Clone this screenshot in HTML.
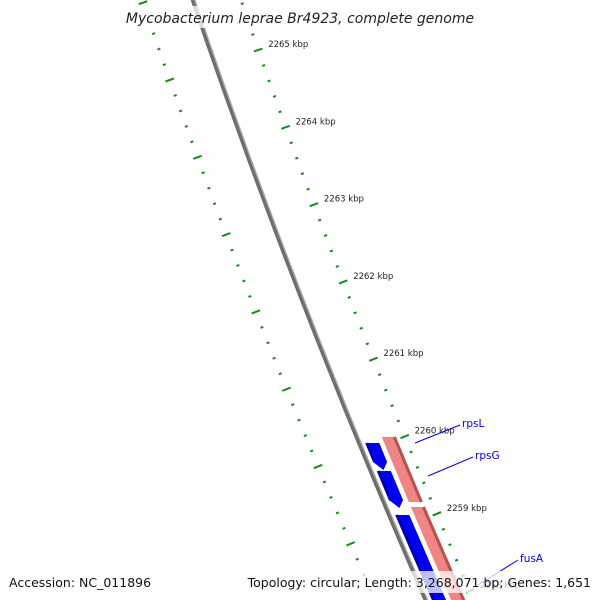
<!DOCTYPE html>
<html><head><meta charset="utf-8"><style>
html,body{margin:0;padding:0;background:#fff;overflow:hidden;}
svg{display:block;font-family:"DejaVu Sans","Liberation Sans",sans-serif;}
</style></head><body>
<svg id="map" width="600" height="600" viewBox="0 0 600 600">
<g id="ticks"></g>
<g id="backbone"></g>
<g id="genes"></g>
<g id="labels"></g>
<rect x="125" y="6" width="350" height="22" fill="#fff" fill-opacity="0.75"/>
<text x="300" y="23" text-anchor="middle" font-style="italic" font-size="14" fill="#222">Mycobacterium leprae Br4923, complete genome</text>
<rect x="256" y="571" width="344" height="22" fill="#fff" fill-opacity="0.75"/>
<text x="9" y="587" font-size="12.5" fill="#111">Accession: NC_011896</text>
<text x="591" y="587" text-anchor="end" font-size="12.5" fill="#111">Topology: circular; Length: 3,268,071 bp; Genes: 1,651</text>
</svg>
<script>
const kbpLabels = [2266, 2265, 2264, 2263, 2262, 2261, 2260, 2259, 2258];
const geneNames = ["rpsL", "rpsG", "fusA", "fwd1", "fwd2"];
const geneStarts = [2259916, 2259554, 2258985, 2259994, 2259088];
const geneEnds   = [2259567, 2259075, 2257000, 2259153, 2257000];
const geneStrand = [-1, -1, -1, 1, 1];
const labelled = ["rpsL", "rpsG", "fusA"];

const NS = "http://www.w3.org/2000/svg";
function yScale(bp){ return 50 + (2265000 - bp) * 0.0773; }
function bbX(y){ return 193 + 0.34*y + 0.00008*y*y; }
function slope(y){ return 0.34 + 0.00016*y; }
function pt(y, off){ return [bbX(y) + off, y]; }
function normal(y){ const s = slope(y), L = Math.sqrt(1+s*s); return [1/L, -s/L]; }
function mk(tag, attrs, parent){
  const e = document.createElementNS(NS, tag);
  for (const k in attrs) e.setAttribute(k, attrs[k]);
  parent.appendChild(e); return e;
}
// backbone
const bb = document.getElementById('backbone');
let d1 = "", d2 = "";
for (let y = -10; y <= 610; y += 10){
  const a = pt(y, 0), b = pt(y, 1.8);
  d1 += (y === -10 ? "M" : "L") + a[0].toFixed(1) + "," + a[1].toFixed(1);
  d2 += (y === -10 ? "M" : "L") + b[0].toFixed(1) + "," + b[1].toFixed(1);
}
const bbl = mk('path', {d: d1, stroke: "#6e6e6e", "stroke-width": 4.5, fill: "none"}, bb);


const bbh = mk('path', {d: d2, stroke: "#aaaaaa", "stroke-width": 1.2, fill: "none"}, bb);



// ticks
const tg = document.getElementById('ticks');
function tick(y, off, len, w){
  const c = pt(y, off), n = normal(y);
  const l = mk('line', {x1:c[0]-n[0]*len/2, y1:c[1]-n[1]*len/2, x2:c[0]+n[0]*len/2, y2:c[1]+n[1]*len/2, stroke:"#1a8a1a", "stroke-width": w}, tg);
  
  
}
kbpLabels.forEach(k => {
  for (let m = 0; m < 5; m++){
    const bp = k*1000 - m*200;
    const y = yScale(bp);
    if (y > 605) continue;
    if (y > -5) tick(y, 48, m === 0 ? 9 : 3, 2);
    const yi = y + 30;
    if (yi > -5 && yi < 605) tick(yi, -51, m === 0 ? 9 : 3, 2);
    if (m === 0 && y > 30){
      const p = pt(y, 58);
      const t = mk('text', {x: p[0], y: p[1] - 3, "font-size": 8.5, fill: "#222"}, tg);
      t.textContent = k + " kbp";
      
      
    }
  }
});

// genes
const gg = document.getElementById('genes');
geneNames.forEach((name, i) => {
  const y1 = yScale(geneStarts[i]), y2 = Math.min(yScale(geneEnds[i]), 640);
  const off = geneStrand[i] < 0 ? 13 : 32, hw = 7;
  let poly;
  if (geneStrand[i] < 0){
    const tip = y2 - 8;
    poly = [pt(y1, off-hw), pt(y1, off+hw), pt(tip, off+hw), pt(y2, off), pt(tip, off-hw)];
  } else {
    poly = [pt(y1, off-hw), pt(y1, off+hw), pt(y2, off+hw), pt(y2, off-hw)];
  }
  const fill = geneStrand[i] < 0 ? "#0000f0" : "#ef8585";
  const p = mk('polygon', {points: poly.map(q => q[0].toFixed(1)+","+q[1].toFixed(1)).join(" "), fill: fill}, gg);
  
  
  const ed = geneStrand[i] < 0 ? "#0000b0" : "#b85050";
  const eo = geneStrand[i] < 0 ? off-hw+1.5 : off+hw-1.5;
  const e1 = pt(y1, eo), e2 = pt(geneStrand[i] < 0 ? y2-8 : y2, eo);
  const sh = mk('line', {x1:e1[0], y1:e1[1], x2:e2[0], y2:e2[1], stroke: ed, "stroke-width": 3}, gg);
  
  
});

// labels
const lg = document.getElementById('labels');
const labelPos = {rpsL:[462,427,415,443], rpsG:[475,459,428,476], fusA:[520,562,478,585]};
labelled.forEach(n => {
  const q = labelPos[n];
  const l = mk('line', {x1:q[2], y1:q[3], x2:q[0]-2, y2:q[1]-2, stroke:"#0000f0", "stroke-width":1}, lg);
  
  
  const t = mk('text', {x:q[0], y:q[1], "font-size":10.5, fill:"#0000f0"}, lg);
  t.textContent = n;
  
  
});
</script>
</body></html>
